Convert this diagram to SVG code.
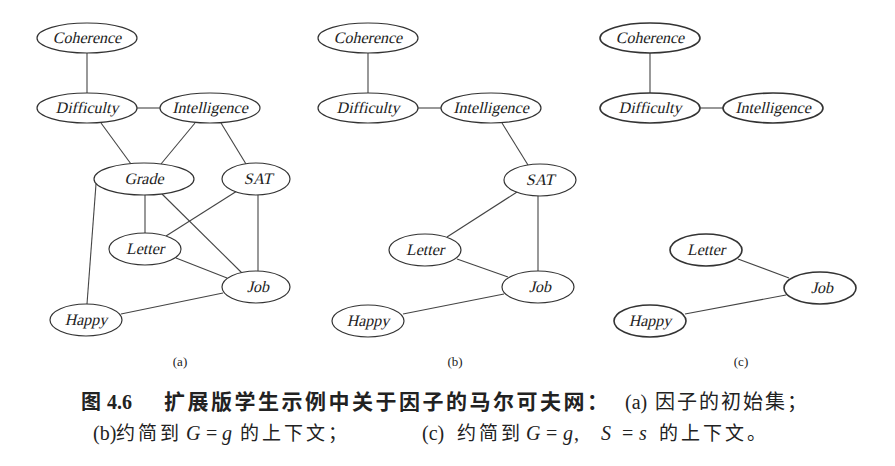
<svg xmlns="http://www.w3.org/2000/svg" width="895" height="466" viewBox="0 0 895 466">
<style>
.n ellipse{fill:#fff;stroke:#333;stroke-width:1.2}
.c ellipse{stroke-width:1.6}
.n text{font-family:"Liberation Serif",serif;font-size:16px;fill:#222;text-anchor:middle}
#edges line{stroke:#444;stroke-width:1.1}
.lab{font-family:"Liberation Serif",serif;font-size:13px;fill:#222;text-anchor:middle}
.cap{font-family:"Noto Sans CJK SC",sans-serif;fill:#222}
.ser{font-family:"Liberation Serif",serif;fill:#222;font-size:20px}
</style>
<rect width="895" height="466" fill="#fff"/>
<g id="edges">
<line x1="87" y1="53" x2="87" y2="93"/>
<line x1="137" y1="108" x2="160" y2="108"/>
<line x1="101" y1="123" x2="131" y2="164"/>
<line x1="195" y1="123" x2="161" y2="164"/>
<line x1="221" y1="123" x2="246" y2="164"/>
<line x1="145" y1="195" x2="145" y2="233"/>
<line x1="162" y1="194" x2="242" y2="273"/>
<line x1="237" y1="191" x2="166" y2="236"/>
<line x1="258" y1="195" x2="258" y2="271"/>
<line x1="96" y1="184" x2="87" y2="304"/>
<line x1="176" y1="258" x2="227" y2="278"/>
<line x1="121" y1="314" x2="223" y2="293"/>
<line x1="368" y1="53" x2="368" y2="93"/>
<line x1="418" y1="108" x2="441" y2="108"/>
<line x1="502" y1="123" x2="528" y2="165"/>
<line x1="517" y1="192" x2="447" y2="237"/>
<line x1="538" y1="196" x2="538" y2="271"/>
<line x1="457" y1="259" x2="508" y2="277"/>
<line x1="403" y1="314" x2="504" y2="294"/>
<line x1="650" y1="53" x2="650" y2="93"/>
<line x1="700" y1="108" x2="723" y2="108"/>
<line x1="738" y1="259" x2="789" y2="278"/>
<line x1="685" y1="314" x2="786" y2="295"/>
</g>
<g id="a_coherence" class="n"><ellipse cx="87" cy="38" rx="50" ry="15"/><text transform="translate(87,43) skewX(-13)">Coherence</text></g>
<g id="a_difficulty" class="n"><ellipse cx="87" cy="108" rx="50" ry="15"/><text transform="translate(87,113) skewX(-13)">Difficulty</text></g>
<g id="a_intelligence" class="n"><ellipse cx="210" cy="108" rx="50" ry="15"/><text transform="translate(210,113) skewX(-13)">Intelligence</text></g>
<g id="a_grade" class="n"><ellipse cx="144" cy="179" rx="50" ry="16"/><text transform="translate(144,184) skewX(-13)">Grade</text></g>
<g id="a_sat" class="n"><ellipse cx="256" cy="179" rx="34" ry="16"/><text transform="translate(258,184) skewX(-13)">SAT</text></g>
<g id="a_letter" class="n"><ellipse cx="145" cy="249" rx="36" ry="16"/><text transform="translate(145,254) skewX(-13)">Letter</text></g>
<g id="a_job" class="n"><ellipse cx="256" cy="287" rx="34" ry="16"/><text transform="translate(258,292) skewX(-13)">Job</text></g>
<g id="a_happy" class="n"><ellipse cx="86" cy="320" rx="36" ry="16"/><text transform="translate(86,325) skewX(-13)">Happy</text></g>
<g id="b_coherence" class="n"><ellipse cx="368" cy="38" rx="50" ry="15"/><text transform="translate(368,43) skewX(-13)">Coherence</text></g>
<g id="b_difficulty" class="n"><ellipse cx="368" cy="108" rx="50" ry="15"/><text transform="translate(368,113) skewX(-13)">Difficulty</text></g>
<g id="b_intelligence" class="n"><ellipse cx="491" cy="108" rx="50" ry="15"/><text transform="translate(491,113) skewX(-13)">Intelligence</text></g>
<g id="b_sat" class="n"><ellipse cx="540" cy="180" rx="36" ry="16"/><text transform="translate(540,185) skewX(-13)">SAT</text></g>
<g id="b_letter" class="n"><ellipse cx="425" cy="250" rx="36" ry="16"/><text transform="translate(425,255) skewX(-13)">Letter</text></g>
<g id="b_job" class="n"><ellipse cx="538" cy="287" rx="36" ry="16"/><text transform="translate(540,292) skewX(-13)">Job</text></g>
<g id="b_happy" class="n"><ellipse cx="368" cy="321" rx="36" ry="16"/><text transform="translate(368,326) skewX(-13)">Happy</text></g>
<g id="c_coherence" class="n c"><ellipse cx="650" cy="38" rx="50" ry="15"/><text transform="translate(650,43) skewX(-13)">Coherence</text></g>
<g id="c_difficulty" class="n c"><ellipse cx="650" cy="108" rx="50" ry="15"/><text transform="translate(650,113) skewX(-13)">Difficulty</text></g>
<g id="c_intelligence" class="n c"><ellipse cx="773" cy="108" rx="50" ry="15"/><text transform="translate(773,113) skewX(-13)">Intelligence</text></g>
<g id="c_letter" class="n c"><ellipse cx="706" cy="250" rx="36" ry="16"/><text transform="translate(706,255) skewX(-13)">Letter</text></g>
<g id="c_job" class="n c"><ellipse cx="820" cy="288" rx="36" ry="16"/><text transform="translate(822,293) skewX(-13)">Job</text></g>
<g id="c_happy" class="n c"><ellipse cx="650" cy="321" rx="36" ry="16"/><text transform="translate(650,326) skewX(-13)">Happy</text></g>
<g id="labels">
<text class="lab" x="180" y="366">(a)</text>
<text class="lab" x="455" y="366">(b)</text>
<text class="lab" x="741" y="366">(c)</text>
</g>
<g id="caption">
<text class="cap" x="81" y="409" font-size="20" font-weight="bold">图</text>
<text class="ser" x="107" y="409" font-weight="bold">4.6</text>
<text class="cap" x="164" y="409" font-size="21" font-weight="bold" letter-spacing="2.5">扩展版学生示例中关于因子的马尔可夫网：</text>
<text class="ser" x="625" y="409">(a)</text>
<text class="cap" x="655" y="409" font-size="20" letter-spacing="2">因子的初始集；</text>
<text class="ser" x="93" y="440">(b)</text>
<text class="cap" x="116" y="440" font-size="19" letter-spacing="3">约简到</text>
<text class="ser" x="186" y="440" font-style="italic">G</text>
<text class="ser" x="206" y="440">=</text>
<text class="ser" x="222" y="440" font-style="italic">g</text>
<text class="cap" x="240" y="440" font-size="19" letter-spacing="3">的上下文；</text>
<text class="ser" x="422" y="440">(c)</text>
<text class="cap" x="457" y="440" font-size="19" letter-spacing="3">约简到</text>
<text class="ser" x="526" y="440" font-style="italic">G</text>
<text class="ser" x="546" y="440">=</text>
<text class="ser" x="563" y="440" font-style="italic">g</text>
<text class="ser" x="574" y="440">,</text>
<text class="ser" x="601" y="440" font-style="italic">S</text>
<text class="ser" x="622" y="440">=</text>
<text class="ser" x="639" y="440" font-style="italic">s</text>
<text class="cap" x="659" y="440" font-size="19" letter-spacing="3">的上下文。</text>
</g>
</svg>
